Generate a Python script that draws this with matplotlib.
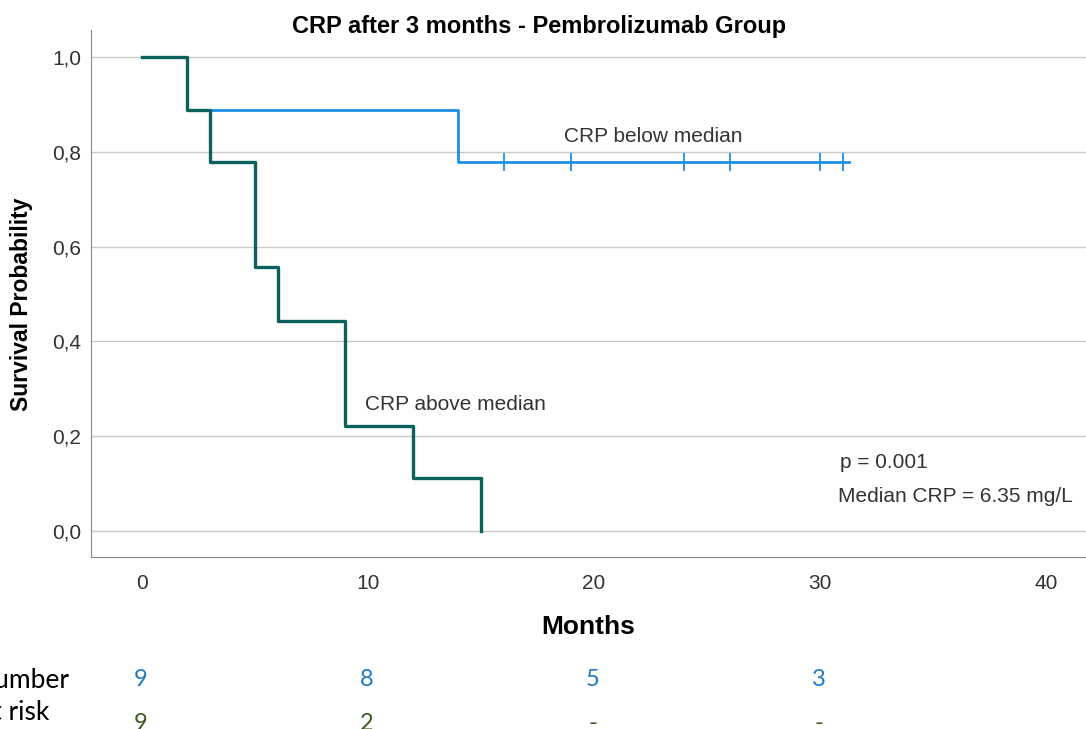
import matplotlib.pyplot as plt

# Kaplan-Meier steps
above_t = [0, 2, 3, 5, 6, 9, 12, 15]
above_s = [1.0, 0.889, 0.778, 0.556, 0.444, 0.222, 0.111, 0.0]

below_t = [0, 2, 14, 31.3]
below_s = [1.0, 0.889, 0.778, 0.778]
below_censor = [16, 19, 24, 26, 30, 31]

risk_times = [0, 10, 20, 30]
risk_below = ['9', '8', '5', '3']
risk_above = ['9', '2', '-', '-']

yticks = [0.0, 0.2, 0.4, 0.6, 0.8, 1.0]
xticks = [0, 10, 20, 30, 40]

blue = '#1e8fe6'
teal = '#0d615c'

plt.rcParams['font.family'] = ['Liberation Sans', 'DejaVu Sans']

fig = plt.figure(figsize=(10.86, 7.29), dpi=100)
ax = fig.add_axes([91 / 1086, 172 / 729, 995 / 1086, 527 / 729])

# curves, blue first so the teal sits on top
ax.step(below_t, below_s, where='post', color=blue, lw=2, zorder=3)
ax.scatter(below_censor, [0.778] * len(below_censor), marker='|', s=180,
           color=blue, linewidths=1.3, zorder=3)
ax.step(above_t, above_s, where='post', color=teal, lw=2.4, zorder=4)

ax.set_xlim(-2.26, 41.77)
ax.set_ylim(-0.055, 1.057)
ax.set_yticks(yticks)
ax.set_yticklabels([('%.1f' % v).replace('.', ',') for v in yticks])
ax.set_xticks(xticks)
ax.tick_params(length=0, labelsize=15, colors='#333333', pad=7)
ax.tick_params(axis='x', pad=12)
ax.grid(axis='y', color='#c9c9c9', lw=1)
ax.set_axisbelow(True)
for s in ['top', 'right']:
    ax.spines[s].set_visible(False)
for s in ['left', 'bottom']:
    ax.spines[s].set_color('#8a8a8a')

fig.text(539 / 1086, 1 - 27 / 729, 'CRP after 3 months - Pembrolizumab Group',
         fontsize=17, fontweight='bold', ha='center', va='center')
ax.set_xlabel('Months', fontsize=19, fontweight='bold', labelpad=16)
ax.set_ylabel('Survival Probability', fontsize=16.5, fontweight='bold')
ax.yaxis.set_label_coords(-0.058, 0.48)

ax.text(22.6, 0.833, 'CRP below median', fontsize=15, color='#333333', ha='center', va='center')
ax.text(13.85, 0.266, 'CRP above median', fontsize=15, color='#333333', ha='center', va='center')
ax.text(30.9, 0.144, 'p = 0.001', fontsize=15, color='#333333', va='center')
ax.text(30.8, 0.072, 'Median CRP = 6.35 mg/L', fontsize=15, color='#333333', va='center')

# number at risk table
for t, a, b in zip(risk_times, risk_below, risk_above):
    xf = (141 + t * 22.6) / 1086
    fig.text(xf, 1 - 680 / 729, a, color='#1f78c8', fontsize=17,
             ha='center', va='center', family='Lato')
    fig.text(xf, 1 - 723 / 729, b, color='#3e5b23', fontsize=17,
             ha='center', va='center', family='Lato')
fig.text(70 / 1086, 1 - 681 / 729, 'Number', fontsize=19, ha='right', va='center', family='Lato')
fig.text(49 / 1086, 1 - 713 / 729, 'at risk', fontsize=19, ha='right', va='center', family='Lato')

fig.savefig('out.png', dpi=100)
